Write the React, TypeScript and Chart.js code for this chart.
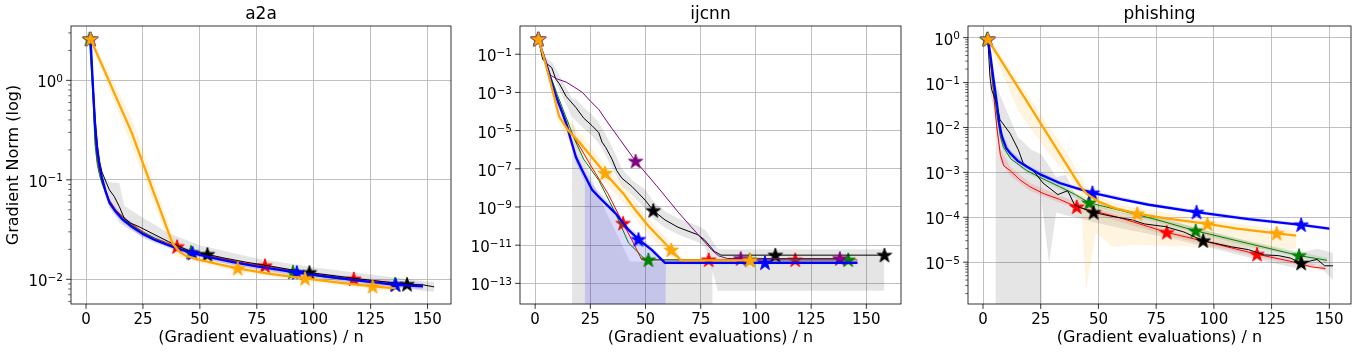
import React, { useEffect, useRef } from 'react';
import { Chart, registerables } from 'chart.js';

Chart.register(...registerables);

type P = [number, number];
type B = [number, number, number];

const FONT = 'DejaVu Sans';
const TITLES = ['a2a', 'ijcnn', 'phishing'];
const X_LABEL = '(Gradient evaluations) / n';
const Y_LABEL = 'Gradient Norm (log)';
const X_TICKS = [0, 25, 50, 75, 100, 125, 150];
const A2A_Y_TICKS = [1e-2, 1e-1, 1];
const IJ_Y_TICKS = [1e-13, 1e-11, 1e-9, 1e-7, 1e-5, 1e-3, 1e-1];
const PH_Y_TICKS = [1e-5, 1e-4, 1e-3, 1e-2, 1e-1, 1];

// ---------------- a2a ----------------
const a2aRed: P[] = [[2, 2.6], [3, 0.8], [4, 0.25], [5, 0.15], [6, 0.12], [7, 0.095], [8.5, 0.08], [10, 0.064], [13, 0.05], [16, 0.043], [20, 0.036], [25, 0.03], [30, 0.026], [35, 0.0235], [40, 0.0213], [50, 0.018], [60, 0.0162], [70, 0.0145], [78.6, 0.0137], [90, 0.0122], [100, 0.0113], [117.6, 0.0101], [130, 0.0095], [140, 0.009], [148, 0.0087]];
const a2aGreen: P[] = [[1.5, 2.6], [3, 0.7], [4, 0.22], [5, 0.14], [6, 0.11], [7, 0.092], [8.5, 0.076], [10, 0.062], [13, 0.049], [16, 0.042], [20, 0.035], [25, 0.0295], [30, 0.026], [35, 0.023], [40, 0.021], [46.1, 0.0187], [55, 0.0168], [70, 0.0142], [80, 0.013], [90.9, 0.0118], [105, 0.0105], [120, 0.0096], [135.7, 0.0089], [146, 0.0086]];
const a2aBlack: P[] = [[2, 2.6], [3, 1.0], [4, 0.42], [5, 0.22], [6, 0.15], [7, 0.12], [8.8, 0.095], [10.3, 0.079], [12.4, 0.068], [14.6, 0.054], [16.8, 0.041], [19.7, 0.0366], [23.3, 0.0338], [29, 0.029], [36.3, 0.0239], [45, 0.0195], [53.3, 0.0178], [60, 0.0165], [70, 0.0149], [80, 0.0137], [90, 0.0125], [98.1, 0.0117], [110, 0.0108], [120, 0.0101], [130, 0.0095], [141, 0.0089], [148, 0.0088], [152.9, 0.0084]];
const a2aBlue: P[] = [[2, 2.6], [3, 0.9], [4, 0.34], [5, 0.19], [6, 0.135], [7, 0.105], [8.5, 0.078], [10.3, 0.059], [13, 0.048], [16, 0.04], [20, 0.034], [25, 0.0285], [30, 0.025], [35, 0.0225], [40, 0.0205], [46.8, 0.0183], [55, 0.0165], [65, 0.0148], [75, 0.0135], [92.6, 0.0117], [105, 0.0107], [120, 0.0097], [136, 0.0088], [148, 0.0085]];
const a2aOrange: P[] = [[2, 2.6], [20, 0.3], [38, 0.023], [41, 0.019], [44, 0.0172], [50, 0.0157], [58, 0.0142], [66.6, 0.0129], [80, 0.0114], [96.2, 0.0102], [110, 0.0093], [125.9, 0.0085], [136, 0.0081]];
const a2aRedStars = [2, 40, 78.6, 117.6];
const a2aGreenStars = [1.5, 46.1, 90.9, 135.7];
const a2aBlackStars = [2, 53.3, 98.1, 141];
const a2aBlueStars = [2, 46.8, 92.6, 136];
const a2aOrangeStars = [2, 66.6, 96.2, 125.9];
const a2aBlackBand: B[] = [[2, 2.4, 2.8], [4, 0.3, 0.5], [6, 0.11, 0.18], [7.4, 0.085, 0.11], [10.3, 0.055, 0.095], [14.6, 0.037, 0.093], [16.8, 0.034, 0.055], [23.3, 0.028, 0.044], [36.3, 0.021, 0.029], [50, 0.0165, 0.022], [75, 0.0123, 0.0162], [100, 0.0102, 0.0132], [125, 0.0088, 0.0112], [150, 0.0076, 0.0095], [152.9, 0.0075, 0.0094]];
const a2aBlueBand: B[] = [[2, 2.4, 2.8], [4, 0.28, 0.4], [6, 0.11, 0.15], [8.5, 0.068, 0.083], [10.3, 0.052, 0.063], [16, 0.037, 0.044], [25, 0.026, 0.031], [40, 0.019, 0.022], [60, 0.0145, 0.0165], [90, 0.0111, 0.0127], [120, 0.009, 0.0104], [148, 0.0079, 0.0092]];
const a2aOrangeBand: B[] = [[2, 2.4, 2.8], [20, 0.22, 0.42], [38, 0.019, 0.028], [41, 0.0165, 0.021], [50, 0.0145, 0.0172], [66.6, 0.0119, 0.0139], [96.2, 0.0095, 0.011], [125.9, 0.0079, 0.0091], [136, 0.0075, 0.0087]];

// ---------------- ijcnn ----------------
const ijRed: P[] = [[1.5, 0.62], [3, 0.16], [5, 0.032], [7.5, 4.0e-3], [10, 5.0e-4], [13, 6.3e-5], [15.4, 1.1e-5], [20, 1.6e-6], [25, 1.6e-7], [33, 5.0e-9], [39.8, 1.4e-10], [43.8, 1.9e-11], [48.3, 1.7e-12], [146, 1.7e-12]];
const ijGreen: P[] = [[1.2, 0.62], [5, 0.032], [10, 7.9e-4], [14, 5.0e-5], [18, 3.2e-6], [22, 3.2e-7], [28.8, 2.5e-8], [36.3, 5.0e-10], [42.3, 1.3e-11], [46.8, 4.0e-12], [50, 1.7e-12], [144, 1.7e-12]];
const ijBlack: P[] = [[1.5, 0.62], [3.4, 0.055], [5, 0.034], [7.5, 0.02], [9.4, 4.9e-3], [11, 2.8e-3], [14, 6.3e-4], [18.5, 1.6e-4], [22, 4.5e-5], [25.8, 1.8e-5], [28.8, 7.9e-6], [30.3, 2.5e-6], [32, 1.3e-6], [34.8, 3.2e-7], [37, 7.9e-8], [39.3, 3.2e-8], [43.8, 1.2e-8], [49.8, 2.3e-9], [53.5, 6.5e-10], [58.8, 2.1e-10], [64.7, 8.7e-11], [73.7, 3.5e-11], [76.7, 1.9e-11], [81.2, 4.7e-12], [84.2, 3.0e-12], [158.2, 3.0e-12]];
const ijPurple: P[] = [[1.5, 0.62], [4, 0.079], [7, 7.9e-3], [10, 5.0e-3], [14, 3.5e-3], [18, 1.8e-3], [21.4, 1.0e-3], [25, 3.5e-4], [28.8, 1.3e-4], [33, 2.5e-5], [38, 4.0e-6], [45.5, 2.5e-7], [55, 1.3e-8], [65, 5.0e-10], [75, 2.5e-11], [80, 5.6e-12], [83, 2.8e-12], [87, 2.0e-12], [140, 2.0e-12]];
const ijBlue: P[] = [[1.5, 0.62], [3, 0.16], [4.9, 0.034], [7, 5.0e-3], [9.4, 6.3e-4], [12.4, 7.9e-5], [14, 2.5e-5], [16.2, 3.2e-6], [18.5, 4.0e-7], [21.4, 7.9e-8], [25.8, 7.9e-9], [30.3, 2.3e-9], [36.3, 4.8e-10], [42.3, 6.3e-11], [46.8, 2.0e-11], [52.8, 5.6e-12], [58.8, 1.2e-12], [146, 1.2e-12]];
const ijOrange: P[] = [[1.5, 0.62], [4, 0.063], [7, 3.2e-3], [10.9, 5.4e-5], [15, 1.0e-5], [20, 2.5e-6], [25, 5.0e-7], [31.7, 5.9e-8], [40, 5.0e-9], [45.3, 7.1e-10], [51.3, 1.0e-10], [61.7, 5.6e-12], [66, 1.6e-12], [100, 1.6e-12]];
const ijRedStars = [1.5, 39.8, 78.6, 117.8];
const ijGreenStars = [1.2, 51.3, 97.2, 141.8];
const ijBlackStars = [1.5, 53.5, 108.8, 158.2];
const ijPurpleStars = [1.5, 45.5, 93.1, 138];
const ijBlueStars = [1.5, 46.8, 104.1];
const ijOrangeStars = [1.5, 31.7, 61.7, 97.3];
const ijBlackBand: B[] = [[1.5, 0.5, 0.79], [5, 0.018, 0.063], [8, 7.9e-3, 0.035], [11, 1.3e-3, 7.9e-3], [14, 2.5e-4, 1.8e-3], [16.6, 5.0e-5, 5.0e-4], [18.5, 3.2e-5, 4.5e-4], [22, 1.3e-5, 1.6e-4], [26, 5.0e-6, 6.3e-5], [29, 2.0e-6, 2.5e-5], [32, 5.0e-7, 6.3e-6], [35, 1.0e-7, 1.3e-6], [39.3, 1.3e-8, 1.0e-7], [44, 4.0e-9, 2.5e-8], [50, 7.9e-10, 7.9e-9], [53.5, 2.5e-10, 2.0e-9], [59, 7.9e-11, 5.6e-10], [65, 3.5e-11, 2.5e-10], [74, 1.4e-11, 1.0e-10], [77, 7.9e-12, 6.3e-11], [80.4, 4.0e-13, 1.6e-11], [82.7, 4.1e-14, 6.2e-12], [158.2, 4.1e-14, 6.2e-12]];
const ijBlackFloor: B[] = [[16.6, 1e-20, 5.0e-5], [20, 1e-20, 1.3e-6], [28.8, 1e-20, 3.5e-9], [43, 1e-20, 1.4e-12], [80.4, 1e-20, 1.4e-12]];
const ijBlueBand: B[] = [[1.5, 0.56, 0.68], [5, 0.025, 0.045], [9.4, 4.0e-4, 1.0e-3], [14, 1.3e-5, 5.0e-5], [18.5, 2.0e-7, 7.9e-7], [22.5, 2.0e-8, 7.9e-8], [22.6, 1e-20, 7.9e-8], [25.8, 1e-20, 1.6e-8], [30.3, 1e-20, 4.0e-9], [36.3, 1e-20, 7.9e-10], [42.3, 1e-20, 1.0e-10], [46.8, 1e-20, 3.2e-11], [52.8, 1e-20, 7.9e-12], [58.8, 1e-20, 1.5e-12], [59.2, 1.0e-12, 1.4e-12], [146, 1.0e-12, 1.4e-12]];
const ijOrangeBand: B[] = [[1.5, 0.56, 0.68], [7, 2.0e-3, 5.0e-3], [10.9, 2.0e-5, 1.6e-4], [15, 3.2e-6, 4.0e-5], [20, 7.9e-7, 7.9e-6], [31.7, 2.0e-8, 1.6e-7], [40, 1.6e-9, 1.3e-8], [51.3, 3.2e-11, 2.5e-10], [61.7, 2.5e-12, 1.3e-11], [66, 1.3e-12, 2.0e-12], [100, 1.3e-12, 2.0e-12]];

// ---------------- phishing ----------------
const phRed: P[] = [[2.1, 0.92], [3, 0.4], [4.5, 0.063], [6, 0.01], [7.5, 2.5e-3], [9, 1.4e-3], [11.7, 1.1e-3], [16, 6.8e-4], [20.3, 4.8e-4], [26, 3.4e-4], [33.2, 2.5e-4], [40.6, 1.7e-4], [50, 1.3e-4], [60, 9.5e-5], [79.6, 4.6e-5], [100, 2.6e-5], [118.7, 1.5e-5], [135, 1.0e-5], [142, 7.9e-6], [148.3, 7.2e-6]];
const phGreen: P[] = [[1.7, 0.92], [3, 0.4], [4.5, 0.079], [6, 0.02], [7.5, 6.3e-3], [8.8, 3.7e-3], [12, 2.0e-3], [18.9, 1.1e-3], [25, 7.6e-4], [33.2, 4.8e-4], [40, 3.2e-4], [46, 2.1e-4], [60, 1.4e-4], [75, 8.9e-5], [92.1, 5.0e-5], [110, 3.0e-5], [136.9, 1.4e-5], [149, 1.1e-5]];
const phBlack: P[] = [[2.1, 0.92], [3, 0.141], [3.7, 0.071], [5.8, 0.035], [7.4, 0.0148], [11.7, 7.4e-3], [15.3, 3.2e-3], [17.4, 1.6e-3], [21.7, 1.1e-3], [26, 5.8e-4], [32.4, 3.2e-4], [36.7, 3.9e-4], [39.6, 1.9e-4], [41.5, 1.7e-4], [47.4, 1.3e-4], [55, 1.07e-4], [64.6, 8.7e-5], [70, 7.1e-5], [78.9, 6.2e-5], [87, 4.7e-5], [95.4, 3.0e-5], [107.5, 2.2e-5], [115, 1.9e-5], [121.8, 1.45e-5], [128, 1.4e-5], [133.3, 1.23e-5], [137.8, 9.5e-6], [144.7, 1.15e-5], [148, 8.3e-6], [151.6, 8.3e-6]];
const phBlue: P[] = [[2.1, 0.92], [3.1, 0.45], [4.5, 0.126], [6, 0.035], [7, 0.0126], [8.2, 6.3e-3], [10, 3.5e-3], [11.7, 2.7e-3], [15, 1.8e-3], [18.9, 1.35e-3], [25, 8.9e-4], [33.2, 5.8e-4], [40, 4.5e-4], [47.4, 3.5e-4], [60, 2.5e-4], [71.8, 1.9e-4], [92.5, 1.3e-4], [115, 9.1e-5], [137.8, 6.8e-5], [150, 5.6e-5]];
const phOrange: P[] = [[2.1, 0.92], [42, 5.0e-4], [45, 3.3e-4], [50.3, 2.2e-4], [57, 1.6e-4], [66.8, 1.2e-4], [80, 9.3e-5], [97.2, 7.1e-5], [110, 5.6e-5], [127.2, 4.4e-5], [135.7, 3.9e-5]];
const phRedStars = [2.1, 40.6, 79.6, 118.7];
const phGreenStars = [1.7, 46, 92.1, 136.9];
const phBlackStars = [2.1, 47.9, 95.4, 137.8];
const phBlueStars = [2.1, 47.4, 92.5, 137.8];
const phOrangeStars = [2.1, 66.8, 97.2, 127.2];
const phRedBand: B[] = [[2.1, 0.85, 1.0], [4.5, 0.045, 0.09], [6, 7.0e-3, 0.014], [7.5, 1.8e-3, 3.4e-3], [11.7, 8.5e-4, 1.35e-3], [20.3, 3.9e-4, 5.8e-4], [33.2, 2.1e-4, 3.0e-4], [50, 1.1e-4, 1.5e-4], [79.6, 4.0e-5, 5.2e-5], [118.7, 1.3e-5, 1.7e-5], [148.3, 6.4e-6, 8.0e-6]];
const phGreenBand: B[] = [[2.1, 0.85, 1.0], [6, 0.016, 0.025], [8.8, 3.0e-3, 4.5e-3], [18.9, 9.5e-4, 1.3e-3], [33.2, 4.2e-4, 5.5e-4], [46, 1.85e-4, 2.4e-4], [75, 7.8e-5, 1.0e-4], [110, 2.6e-5, 3.4e-5], [149, 9.5e-6, 1.25e-5]];
const phBlackBand: B[] = [[2.1, 0.79, 1.0], [3, 0.063, 0.25], [5.5, 0.016, 0.1], [5.6, 1e-20, 0.089], [10, 1e-20, 0.025], [15, 1e-20, 6.3e-3], [21, 1e-20, 3.2e-3], [25.3, 1e-20, 2.5e-3], [25.5, 2.0e-4, 2.5e-3], [28.6, 9.3e-6, 1.4e-3], [31.7, 1.3e-4, 7.9e-4], [36, 1.1e-4, 8.9e-4], [40, 1.0e-4, 3.2e-4], [47, 7.9e-5, 2.0e-4], [60, 5.6e-5, 1.26e-4], [80, 3.5e-5, 8.9e-5], [100, 2.0e-5, 4.5e-5], [120, 1.1e-5, 2.5e-5], [137, 7.1e-6, 1.6e-5], [145, 8.9e-6, 2.0e-5], [151.6, 4.0e-6, 1.6e-5]];
const phBlueBand: B[] = [[2.1, 0.85, 1.0], [4.5, 0.1, 0.16], [6, 0.028, 0.045], [8.2, 5.0e-3, 8.0e-3], [11.7, 2.3e-3, 3.2e-3], [18.9, 1.2e-3, 1.5e-3], [33.2, 5.2e-4, 6.4e-4], [47.4, 3.2e-4, 3.9e-4], [71.8, 1.75e-4, 2.1e-4], [92.5, 1.2e-4, 1.45e-4], [115, 8.3e-5, 1.0e-4], [137.8, 6.2e-5, 7.5e-5], [150, 5.1e-5, 6.1e-5]];
const phOrangeBand: B[] = [[2.1, 0.79, 1.05], [8, 0.178, 0.4], [15, 0.025, 0.112], [21.7, 7.9e-3, 0.035], [28.9, 2.5e-3, 0.01], [37.5, 7.9e-4, 2.2e-3], [42.5, 1.7e-4, 7.9e-4], [44.6, 2.4e-6, 5.0e-4], [48.9, 4.4e-5, 3.2e-4], [56, 2.2e-5, 2.2e-4], [64.6, 2.4e-5, 1.7e-4], [93.2, 2.2e-5, 9.5e-5], [121.8, 2.0e-5, 6.0e-5], [135.7, 1.95e-5, 5.0e-5]];

// ---------------- styles ----------------
const C = {
  red: '#ff0000', green: '#008000', black: '#000000', purple: '#800080', blue: '#0000ff', orange: '#ffa500',
};
const BAND = {
  red: 'rgba(255,0,0,0.12)', green: 'rgba(0,128,0,0.12)', black: 'rgba(0,0,0,0.1)',
  purple: 'rgba(128,0,128,0.1)', blue: 'rgba(0,0,255,0.14)', orange: 'rgba(255,165,0,0.12)',
};

type Series = { color: string; width: number; line: P[]; stars: number[]; bands: B[][]; fill: string };

function starImage(color: string): HTMLCanvasElement {
  const r = 7.6;
  const size = 20;
  const c = document.createElement('canvas');
  c.width = size; c.height = size;
  const ctx = c.getContext('2d')!;
  const cx = size / 2, cy = size / 2 + 0.5;
  ctx.beginPath();
  for (let i = 0; i < 10; i++) {
    const rr = i % 2 === 0 ? r : r * 0.381966;
    const a = -Math.PI / 2 + (i * Math.PI) / 5;
    const x = cx + rr * Math.cos(a), y = cy + rr * Math.sin(a);
    if (i === 0) ctx.moveTo(x, y); else ctx.lineTo(x, y);
  }
  ctx.closePath();
  ctx.fillStyle = color; ctx.fill();
  ctx.lineWidth = 1; ctx.strokeStyle = color; ctx.lineJoin = 'miter'; ctx.stroke();
  return c;
}

function interpLog(line: P[], x: number): number {
  if (x <= line[0][0]) return line[0][1];
  for (let i = 1; i < line.length; i++) {
    const [x0, y0] = line[i - 1];
    const [x1, y1] = line[i];
    if (x <= x1) {
      const t = (x - x0) / (x1 - x0);
      return Math.pow(10, Math.log10(y0) + t * (Math.log10(y1) - Math.log10(y0)));
    }
  }
  return line[line.length - 1][1];
}

function buildDatasets(series: Series[]) {
  const ds: any[] = [];
  series.forEach((s, si) => {
    s.bands.forEach((band) => {
      ds.push({ data: band.map((b) => ({ x: b[0], y: b[2] })), fill: '+1', backgroundColor: s.fill, borderWidth: 0, borderColor: 'rgba(0,0,0,0)', pointRadius: 0, order: 900 - si, tension: 0 });
      ds.push({ data: band.map((b) => ({ x: b[0], y: b[1] })), fill: false, borderWidth: 0, borderColor: 'rgba(0,0,0,0)', pointRadius: 0, order: 900 - si, tension: 0 });
    });
  });
  series.forEach((s, si) => {
    ds.push({ data: s.line.map((p) => ({ x: p[0], y: p[1] })), borderColor: s.color, borderWidth: s.width, pointRadius: 0, fill: false, order: 500 - 2 * si, tension: 0 });
    ds.push({ data: s.stars.map((x) => ({ x, y: interpLog(s.line, x) })), showLine: false, pointStyle: starImage(s.color), pointRadius: 8, order: 499 - 2 * si });
  });
  return ds;
}

type PanelCfg = {
  title: string; left: number; width: number; yAxisWidth: number; padRight: number;
  xMin: number; xMax: number; yMin: number; yMax: number; yTicks: number[]; minor: boolean; yTitle: boolean;
  series: Series[];
};

const PANELS: PanelCfg[] = [
  {
    title: TITLES[0], left: 0, width: 460, yAxisWidth: 71, padRight: 4,
    xMin: -6.6, xMax: 160.3, yMin: 0.00565, yMax: 3.52, yTicks: A2A_Y_TICKS, minor: true, yTitle: true,
    series: [
      { color: C.red, width: 1, line: a2aRed, stars: a2aRedStars, bands: [], fill: BAND.red },
      { color: C.green, width: 1, line: a2aGreen, stars: a2aGreenStars, bands: [], fill: BAND.green },
      { color: C.black, width: 1, line: a2aBlack, stars: a2aBlackStars, bands: [a2aBlackBand], fill: BAND.black },
      { color: C.blue, width: 2.3, line: a2aBlue, stars: a2aBlueStars, bands: [a2aBlueBand], fill: BAND.blue },
      { color: C.orange, width: 2.3, line: a2aOrange, stars: a2aOrangeStars, bands: [a2aOrangeBand], fill: BAND.orange },
    ],
  },
  {
    title: TITLES[1], left: 460, width: 450, yAxisWidth: 60, padRight: 5,
    xMin: -6.85, xMax: 165.7, yMin: 8.3e-15, yMax: 3.0, yTicks: IJ_Y_TICKS, minor: false, yTitle: false,
    series: [
      { color: C.red, width: 1, line: ijRed, stars: ijRedStars, bands: [], fill: BAND.red },
      { color: C.green, width: 1, line: ijGreen, stars: ijGreenStars, bands: [], fill: BAND.green },
      { color: C.black, width: 1, line: ijBlack, stars: ijBlackStars, bands: [ijBlackBand, ijBlackFloor], fill: BAND.black },
      { color: C.purple, width: 1, line: ijPurple, stars: ijPurpleStars, bands: [], fill: BAND.purple },
      { color: C.blue, width: 2.3, line: ijBlue, stars: ijBlueStars, bands: [ijBlueBand], fill: BAND.blue },
      { color: C.orange, width: 2.3, line: ijOrange, stars: ijOrangeStars, bands: [ijOrangeBand], fill: BAND.orange },
    ],
  },
  {
    title: TITLES[2], left: 910, width: 450, yAxisWidth: 58, padRight: 6,
    xMin: -6.5, xMax: 159.4, yMin: 1.17e-6, yMax: 1.82, yTicks: PH_Y_TICKS, minor: true, yTitle: false,
    series: [
      { color: C.red, width: 1, line: phRed, stars: phRedStars, bands: [phRedBand], fill: BAND.red },
      { color: C.green, width: 1, line: phGreen, stars: phGreenStars, bands: [phGreenBand], fill: BAND.green },
      { color: C.black, width: 1, line: phBlack, stars: phBlackStars, bands: [phBlackBand], fill: BAND.black },
      { color: C.blue, width: 2.3, line: phBlue, stars: phBlueStars, bands: [phBlueBand], fill: BAND.blue },
      { color: C.orange, width: 2.3, line: phOrange, stars: phOrangeStars, bands: [phOrangeBand], fill: BAND.orange },
    ],
  },
];

function makeAxesPlugin(cfg: PanelCfg) {
  return {
    id: 'mplAxes',
    afterDatasetsDraw(chart: any) {
      const { ctx, chartArea: a, scales } = chart;
      const xs = scales.x, ys = scales.y;
      ctx.save();
      ctx.strokeStyle = '#000';
      ctx.lineWidth = 0.8;
      ctx.strokeRect(a.left, a.top, a.right - a.left, a.bottom - a.top);
      ctx.beginPath();
      for (const v of X_TICKS) {
        const px = xs.getPixelForValue(v);
        ctx.moveTo(px, a.bottom); ctx.lineTo(px, a.bottom + 4.9);
      }
      for (const v of cfg.yTicks) {
        const py = ys.getPixelForValue(v);
        ctx.moveTo(a.left, py); ctx.lineTo(a.left - 4.9, py);
      }
      ctx.stroke();
      if (cfg.minor) {
        ctx.lineWidth = 0.6;
        ctx.beginPath();
        for (let e = -8; e <= 1; e++) {
          for (let m = 2; m <= 9; m++) {
            const v = m * Math.pow(10, e);
            if (v < cfg.yMin || v > cfg.yMax) continue;
            const py = ys.getPixelForValue(v);
            ctx.moveTo(a.left, py); ctx.lineTo(a.left - 2.8, py);
          }
        }
        ctx.stroke();
      }
      ctx.fillStyle = '#000';
      ctx.textAlign = 'right';
      ctx.textBaseline = 'alphabetic';
      for (const v of cfg.yTicks) {
        const py = ys.getPixelForValue(v);
        const ex = Math.round(Math.log10(v));
        const es = ex < 0 ? '\u2212' + String(-ex) : String(ex);
        ctx.font = `10.5px "${FONT}"`;
        const ew = ctx.measureText(es).width;
        const xr = a.left - 8;
        ctx.fillText(es, xr, py + 1.4);
        ctx.font = `15px "${FONT}"`;
        ctx.fillText('10', xr - ew, py + 7);
      }
      ctx.restore();
    },
  };
}

function Panel({ cfg }: { cfg: PanelCfg }) {
  const ref = useRef<HTMLCanvasElement>(null);
  useEffect(() => {
    const canvas = ref.current!;
    const chart = new Chart(canvas, {
      type: 'line',
      data: { datasets: buildDatasets(cfg.series) },
      options: {
        animation: false,
        responsive: false,
        devicePixelRatio: 1,
        events: [],
        layout: { padding: { left: 0, right: cfg.padRight, top: 0, bottom: 0 } },
        plugins: {
          legend: { display: false },
          tooltip: { enabled: false },
          title: {
            display: true, text: cfg.title, fullSize: false, color: '#000',
            font: { family: FONT, size: 17, weight: 'normal', lineHeight: 1.2 },
            padding: { top: 4.8, bottom: 0.8 },
          },
        },
        scales: {
          x: {
            type: 'linear', min: cfg.xMin, max: cfg.xMax,
            afterBuildTicks: (s: any) => { s.ticks = X_TICKS.map((v) => ({ value: v })); },
            afterFit: (s: any) => { s.height = 48; },
            grid: { color: '#b0b0b0', lineWidth: 0.8, drawTicks: false },
            border: { display: false },
            ticks: { color: '#000', font: { family: FONT, size: 15 }, padding: 7, maxRotation: 0, autoSkip: false },
            title: { display: true, text: X_LABEL, color: '#000', font: { family: FONT, size: 16 }, padding: { top: 0, bottom: 5 } },
          },
          y: {
            type: 'logarithmic', min: cfg.yMin, max: cfg.yMax,
            afterBuildTicks: (s: any) => { s.ticks = cfg.yTicks.map((v) => ({ value: v })); },
            afterFit: (s: any) => { s.width = cfg.yAxisWidth; },
            grid: { color: '#b0b0b0', lineWidth: 0.8, drawTicks: false },
            border: { display: false },
            ticks: { display: false },
            title: { display: cfg.yTitle, text: Y_LABEL, color: '#000', font: { family: FONT, size: 16 }, padding: { top: 4, bottom: 0 } },
          },
        },
      } as any,
      plugins: [makeAxesPlugin(cfg)],
    });
    return () => chart.destroy();
  }, [cfg]);
  return (
    <canvas
      ref={ref}
      width={cfg.width}
      height={352}
      style={{ position: 'absolute', left: cfg.left, top: 0, width: cfg.width, height: 352 }}
    />
  );
}

export default function App() {
  return (
    <div style={{ position: 'absolute', left: 0, top: 0, width: 1360, height: 352, background: '#fff' }}>
      {PANELS.map((p) => (
        <Panel key={p.title} cfg={p} />
      ))}
    </div>
  );
}
